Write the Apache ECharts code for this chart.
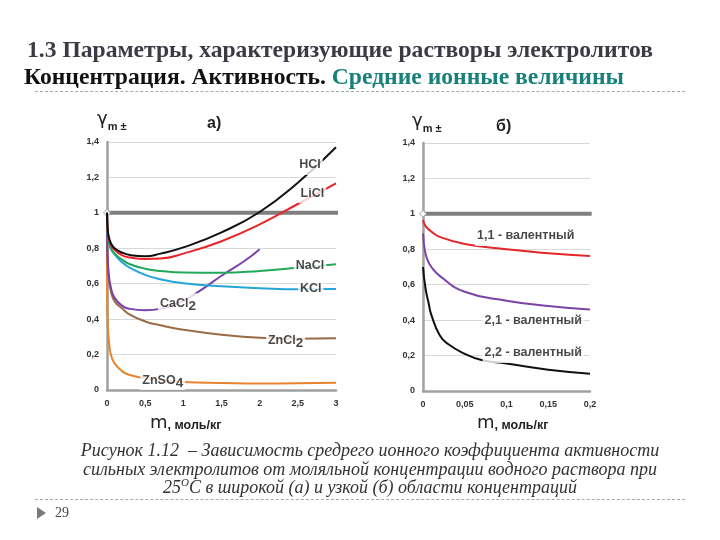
<!DOCTYPE html>
<html><head><meta charset="utf-8">
<script src="https://cdn.jsdelivr.net/npm/echarts@6/dist/echarts.min.js"></script>
<style>
html,body{margin:0;padding:0;background:#fff;width:720px;height:540px;overflow:hidden;}
#chart{position:absolute;left:0;top:0;width:720px;height:540px;}
.t{position:absolute;white-space:nowrap;font-family:"Liberation Serif","Times New Roman",serif;}
.dash{position:absolute;left:35px;width:650px;height:0;border-top:1px dashed #a8a8a8;}
</style></head><body>
<div id="chart"></div>
<div class="t" style="left:27px;top:36px;font-size:23.6px;font-weight:bold;color:#3b3b45;">1.3 Параметры, характеризующие растворы электролитов</div>
<div class="t" style="left:24px;top:63px;font-size:23.6px;font-weight:bold;color:#111;">Концентрация. Активность. <span style="color:#17807b">Средние ионные величины</span></div>
<div class="dash" style="top:91px;"></div>
<div class="t" style="left:0;width:740px;text-align:center;top:441px;font-size:18px;font-style:italic;color:#333;line-height:18.5px;">Рисунок 1.12&nbsp; – Зависимость средрего ионного коэффициента активности<br>сильных электролитов от моляльной концентрации водного раствора при<br>25<sup style="font-size:11px;line-height:0">O</sup>C в широкой (а) и узкой (б) области концентраций</div>
<div class="dash" style="top:499px;"></div>
<div style="position:absolute;left:37px;top:507px;width:0;height:0;border-top:6px solid transparent;border-bottom:6px solid transparent;border-left:9px solid #7a7a7a;"></div>
<div class="t" style="left:55px;top:505px;font-size:14px;color:#444;">29</div>
<script>
// ---- Chart (a): wide concentration range, m in mol/kg ----
const hclM   = [0, 0.005, 0.02, 0.05, 0.1, 0.2, 0.3, 0.5, 0.7, 1, 1.5, 2, 2.5, 3];
const hclG   = [1, 0.93, 0.87, 0.83, 0.80, 0.775, 0.762, 0.755, 0.77, 0.805, 0.89, 1.005, 1.17, 1.37];
const liclM  = [0, 0.005, 0.02, 0.05, 0.1, 0.2, 0.3, 0.5, 0.7, 1, 1.5, 2, 2.5, 3];
const liclG  = [1, 0.93, 0.865, 0.82, 0.79, 0.76, 0.748, 0.74, 0.742, 0.77, 0.84, 0.935, 1.05, 1.167];
const naclM  = [0, 0.005, 0.02, 0.05, 0.1, 0.2, 0.3, 0.5, 0.7, 1, 1.5, 2, 2.5, 3];
const naclG  = [1, 0.92, 0.85, 0.80, 0.77, 0.735, 0.71, 0.685, 0.672, 0.663, 0.662, 0.672, 0.69, 0.71];
const kclM   = [0, 0.005, 0.02, 0.05, 0.1, 0.2, 0.3, 0.5, 0.7, 1, 1.5, 2, 2.5, 3];
const kclG   = [1, 0.92, 0.85, 0.80, 0.765, 0.72, 0.69, 0.65, 0.625, 0.603, 0.585, 0.575, 0.569, 0.57];
const cacl2M = [0, 0.005, 0.02, 0.05, 0.1, 0.2, 0.3, 0.5, 0.7, 1, 1.2, 1.5, 1.8, 2];
const cacl2G = [1, 0.79, 0.67, 0.58, 0.52, 0.475, 0.458, 0.45, 0.458, 0.505, 0.555, 0.645, 0.728, 0.795];
const zncl2M = [0, 0.005, 0.02, 0.05, 0.1, 0.2, 0.3, 0.5, 0.7, 1, 1.5, 2, 2.5, 3];
const zncl2G = [0.95, 0.77, 0.64, 0.56, 0.5, 0.46, 0.425, 0.387, 0.365, 0.34, 0.312, 0.295, 0.29, 0.292];
const znso4M = [0, 0.002, 0.005, 0.01, 0.02, 0.05, 0.1, 0.2, 0.3, 0.5, 0.7, 1, 1.5, 2, 2.5, 3];
const znso4G = [0.85, 0.6, 0.45, 0.37, 0.3, 0.2, 0.15, 0.105, 0.085, 0.066, 0.055, 0.045, 0.04, 0.037, 0.038, 0.041];
// ---- Chart (б): narrow concentration range ----
const v11M = [0, 0.002, 0.005, 0.01, 0.02, 0.05, 0.1, 0.15, 0.2];
const v11G = [0.965, 0.94, 0.92, 0.90, 0.87, 0.83, 0.80, 0.778, 0.762];
const v21M = [0, 0.002, 0.005, 0.01, 0.02, 0.05, 0.1, 0.15, 0.2];
const v21G = [0.89, 0.80, 0.745, 0.70, 0.65, 0.56, 0.51, 0.48, 0.46];
const v22M = [0, 0.003, 0.007, 0.01, 0.02, 0.03, 0.05, 0.07, 0.1, 0.15, 0.2];
const v22G = [0.70, 0.58, 0.49, 0.43, 0.315, 0.265, 0.21, 0.175, 0.155, 0.12, 0.098];
// ---- tick labels ----
const yTicks = [0, 0.2, 0.4, 0.6, 0.8, 1, 1.2, 1.4];
const xTicksA = [0, 0.5, 1, 1.5, 2, 2.5, 3];
const xTicksB = [0, 0.05, 0.1, 0.15, 0.2];

const pairs = (xs, ys) => xs.map((x, i) => [x, ys[i]]);
const comma = v => String(Math.round(v * 1000) / 1000).replace('.', ',');

const chart = echarts.init(document.getElementById('chart'), null, {renderer: 'canvas'});
const axisFont = {fontFamily: 'Liberation Sans, Arial, sans-serif', fontSize: 9, fontWeight: 'bold', color: '#333'};
const lblFont = 'Liberation Sans, Arial, sans-serif';

function yAx(gi) {
  return {type: 'value', gridIndex: gi, min: 0, max: 1.4, interval: 0.2,
    axisLine: {show: true, lineStyle: {color: '#a0a0a0', width: 2.5}},
    axisTick: {show: false},
    splitLine: {lineStyle: {color: '#d9d9d9', width: 1}},
    axisLabel: Object.assign({formatter: comma, margin: 8}, axisFont)};
}
function xAx(gi, max, interval) {
  return {type: 'value', gridIndex: gi, min: 0, max: max, interval: interval,
    axisLine: {show: true, lineStyle: {color: '#a0a0a0', width: 2.5}},
    axisTick: {show: false}, splitLine: {show: false},
    axisLabel: Object.assign({formatter: comma, margin: 9}, axisFont)};
}
function curve(name, xs, ys, color, gi) {
  return {name: name, type: 'line', xAxisIndex: gi, yAxisIndex: gi, data: pairs(xs, ys),
    showSymbol: false, symbol: 'none', smooth: 0.5,
    lineStyle: {color: color, width: 2}, z: 3, silent: true};
}
function unity(gi, xmax) {
  return {type: 'line', xAxisIndex: gi, yAxisIndex: gi, z: 2, silent: true,
    data: [{value: [0, 1], symbol: 'diamond', symbolSize: 7, itemStyle: {color: '#fff', borderColor: '#999', borderWidth: 1}},
           {value: [xmax, 1], symbol: 'none'}],
    showSymbol: true, clip: false, lineStyle: {color: '#7f7f7f', width: 4}};
}
const rich = {
  a: {fontFamily: lblFont, fontSize: 12.5, fontWeight: 'bold', color: '#1a1a1a', lineHeight: 20, verticalAlign: 'middle'},
  s: {fontFamily: lblFont, fontSize: 13.5, fontWeight: 'bold', color: '#1a1a1a', lineHeight: 12, verticalAlign: 'bottom'}
};
function tag(gi, pts) {
  return {type: 'scatter', xAxisIndex: gi, yAxisIndex: gi, symbolSize: 0, z: 10, silent: true,
    data: pts.map(p => ({value: [p[0], p[1]], label: {show: true, position: 'inside', formatter: p[2],
      rich: rich, backgroundColor: '#fff', padding: [0, 2, 0, 2]}}))};
}

chart.setOption({
  animation: false,
  backgroundColor: '#fff',
  grid: [
    {left: 107, right: 384, top: 142, bottom: 150},
    {left: 423, right: 130, top: 143, bottom: 149}
  ],
  xAxis: [xAx(0, 3, 0.5), xAx(1, 0.2, 0.05)],
  yAxis: [yAx(0), yAx(1)],
  series: [
    unity(0, 3.05), unity(1, 0.202),
    curve('ZnSO4', znso4M, znso4G, '#e8832f', 0),
    curve('ZnCl2', zncl2M, zncl2G, '#9a6b45', 0),
    curve('CaCl2', cacl2M, cacl2G, '#7a3fa8', 0),
    curve('KCl', kclM, kclG, '#25a6d8', 0),
    curve('NaCl', naclM, naclG, '#22a85a', 0),
    curve('LiCl', liclM, liclG, '#e8242a', 0),
    curve('HCl', hclM, hclG, '#111111', 0),
    curve('1,1', v11M, v11G, '#e3262b', 1),
    curve('2,1', v21M, v21G, '#7b44a6', 1),
    curve('2,2', v22M, v22G, '#111111', 1),
    tag(0, [[2.66, 1.27, '{a|HCl}'], [2.69, 1.11, '{a|LiCl}'], [2.66, 0.70, '{a|NaCl}'],
            [2.67, 0.57, '{a|KCl}'], [0.93, 0.49, '{a|CaCl}{s|2}'], [2.34, 0.28, '{a|ZnCl}{s|2}'],
            [0.73, 0.056, '{a|ZnSO}{s|4}']]),
    tag(1, [[0.123, 0.875, '{a|1,1 - валентный}'], [0.132, 0.395, '{a|2,1 - валентный}'],
            [0.132, 0.215, '{a|2,2 - валентный}']])
  ],
  graphic: [
    {type: 'text', left: 97, top: 110, style: {text: '{g|γ}{m|m ±}', rich: {
      g: {fontFamily: 'DejaVu Sans', fontSize: 18, fill: '#222', verticalAlign: 'top', lineHeight: 22},
      m: {fontFamily: lblFont, fontSize: 11, fontWeight: 'bold', fill: '#222', verticalAlign: 'bottom', lineHeight: 14}}}},
    {type: 'text', left: 412, top: 112, style: {text: '{g|γ}{m|m ±}', rich: {
      g: {fontFamily: 'DejaVu Sans', fontSize: 18, fill: '#222', verticalAlign: 'top', lineHeight: 22},
      m: {fontFamily: lblFont, fontSize: 11, fontWeight: 'bold', fill: '#222', verticalAlign: 'bottom', lineHeight: 14}}}},
    {type: 'text', left: 207, top: 116, style: {text: 'а)', font: 'bold 16px Liberation Sans', fill: '#222'}},
    {type: 'text', left: 496, top: 119, style: {text: 'б)', font: 'bold 16px Liberation Sans', fill: '#222'}},
    {type: 'text', left: 150, top: 414, style: {text: '{m|m}{r|, моль/кг}', rich: {
      m: {fontFamily: 'DejaVu Sans', fontSize: 18, fill: '#222', verticalAlign: 'bottom', lineHeight: 20},
      r: {fontFamily: lblFont, fontSize: 12.5, fontWeight: 'bold', fill: '#222', verticalAlign: 'bottom', lineHeight: 16}}}},
    {type: 'text', left: 477, top: 414, style: {text: '{m|m}{r|, моль/кг}', rich: {
      m: {fontFamily: 'DejaVu Sans', fontSize: 18, fill: '#222', verticalAlign: 'bottom', lineHeight: 20},
      r: {fontFamily: lblFont, fontSize: 12.5, fontWeight: 'bold', fill: '#222', verticalAlign: 'bottom', lineHeight: 16}}}}
  ]
});
</script>
</body></html>
